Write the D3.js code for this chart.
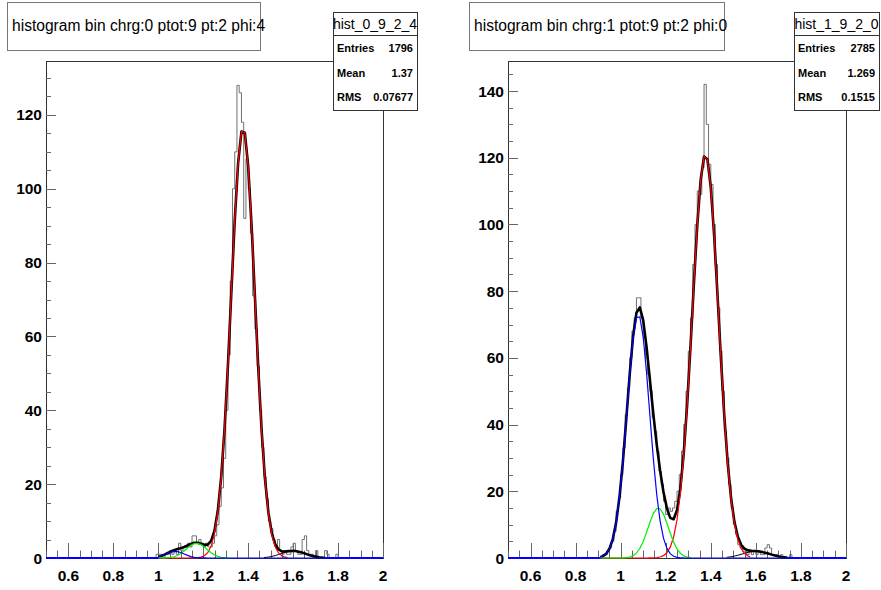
<!DOCTYPE html>
<html>
<head>
<meta charset="utf-8">
<script src="https://cdn.jsdelivr.net/npm/d3@7"></script>
<style>
body { margin: 0; background: #fff; }
svg { display: block; }
</style>
</head>
<body>
<svg id="canvas" width="881" height="590"></svg>
<script>
var bin_width = 0.01;
var x_labels = [0.6, 0.8, 1, 1.2, 1.4, 1.6, 1.8, 2];

// left pad
var left_title = 'histogram bin chrg:0 ptot:9 pt:2 phi:4';
var left_name = 'hist_0_9_2_4';
var left_stats = [['Entries', '1796'], ['Mean', '1.37'], ['RMS', '0.07677']];
var left_y_labels = [0, 20, 40, 60, 80, 100, 120];
var left_first_bin = 0.95;
var left_counts = [
    0, 0, 0, 0, 1, 1, 1, 0, 1, 1,
    2, 1, 2, 1, 4, 2, 3, 3, 4, 3,
    6, 6, 4, 5, 4, 3, 4, 3, 3, 4,
    6, 9, 14, 19, 27, 40, 55, 75, 100, 110,
    128, 126, 118, 92, 108, 100, 88, 71, 62, 52,
    40, 30, 22, 16, 10, 8, 5, 3, 5, 2,
    1, 2, 1, 1, 3, 4, 2, 1, 1, 5,
    6, 2, 1, 1, 0, 2, 0, 0, 0, 2,
    1, 0, 0, 0, 1, 0
];
// fit components: amplitude, mean, sigma
var left_red = [116.5, 1.377, 0.053];
var left_green = [4.0, 1.17, 0.045];
var left_blue = [1.8, 1.075, 0.04];
var left_tail = [1.9, 1.6, 0.055];
var left_fit_range = [1.0, 1.74];

// right pad
var right_title = 'histogram bin chrg:1 ptot:9 pt:2 phi:0';
var right_name = 'hist_1_9_2_0';
var right_stats = [['Entries', '2785'], ['Mean', '1.269'], ['RMS', '0.1515']];
var right_y_labels = [0, 20, 40, 60, 80, 100, 120, 140];
var right_first_bin = 0.90;
var right_counts = [
    0, 0, 1, 1, 2, 3, 5, 8, 14, 18,
    25, 33, 43, 51, 60, 68, 72, 78, 78, 72,
    66, 60, 55, 50, 42, 38, 32, 26, 22, 17,
    13, 15, 14, 15, 17, 20, 25, 32, 40, 50,
    62, 72, 88, 100, 110, 109, 117, 142, 130, 118,
    112, 100, 88, 75, 62, 50, 38, 30, 22, 15,
    10, 7, 4, 3, 2, 2, 1, 2, 1, 2,
    1, 2, 1, 1, 3, 4, 3, 1, 1, 1,
    0, 1, 0, 0, 0, 1, 0, 0, 0, 0
];
var right_red = [121, 1.376, 0.058];
var right_green = [15, 1.167, 0.045];
var right_blue = [73, 1.078, 0.05];
var right_tail = [2, 1.6, 0.06];
var right_fit_range = [0.91, 1.74];

var svg = d3.select('#canvas');
var font = 'Liberation Sans, Arial, sans-serif';

function gaus(p, x) {
    var z = (x - p[1]) / p[2];
    return p[0] * Math.exp(-0.5 * z * z);
}

function draw_pad(pad) {
    var x = d3.scaleLinear().domain([0.5, 2.0]).range([pad.left, pad.right]);
    var y = d3.scaleLinear().domain([0, pad.y_max]).range([pad.bottom, pad.top]);
    var g = svg.append('g');

    // frame
    g.append('rect')
        .attr('x', pad.left + 0.5).attr('y', pad.top + 0.5)
        .attr('width', pad.right - pad.left).attr('height', pad.bottom - pad.top)
        .attr('fill', 'none').attr('stroke', '#333').attr('stroke-width', 1);

    // x ticks, every 0.05, long ones on the labels
    d3.range(0, 31).forEach(function (i) {
        var v = 0.5 + i * 0.05;
        var len = (i % 4 === 2) ? 15 : 7.5;
        g.append('line')
            .attr('x1', Math.round(x(v)) + 0.5).attr('x2', Math.round(x(v)) + 0.5)
            .attr('y1', pad.bottom).attr('y2', pad.bottom - len)
            .attr('stroke', '#666').attr('stroke-width', 1);
    });
    x_labels.forEach(function (v) {
        g.append('text')
            .attr('x', x(v)).attr('y', pad.bottom + 23)
            .attr('text-anchor', 'middle')
            .attr('font-family', font)
            .attr('font-weight', 'bold').attr('font-size', 15.5)
            .text(v);
    });

    // y ticks, every 5
    d3.range(0, pad.y_max, 5).forEach(function (v) {
        var len = (v % 20 === 0) ? 10 : 5;
        g.append('line')
            .attr('x1', pad.left).attr('x2', pad.left + len)
            .attr('y1', Math.round(y(v)) + 0.5).attr('y2', Math.round(y(v)) + 0.5)
            .attr('stroke', '#666').attr('stroke-width', 1);
    });
    pad.y_labels.forEach(function (v) {
        g.append('text')
            .attr('x', pad.left - 4).attr('y', y(v) + 5.5)
            .attr('text-anchor', 'end')
            .attr('font-family', font)
            .attr('font-weight', 'bold').attr('font-size', 15.5)
            .text(v);
    });

    // histogram outline
    var pts = [[pad.first_bin, 0]];
    pad.counts.forEach(function (c, i) {
        var lo = pad.first_bin + i * bin_width;
        pts.push([lo, c]);
        pts.push([lo + bin_width, c]);
    });
    pts.push([pad.first_bin + pad.counts.length * bin_width, 0]);
    var line = d3.line()
        .x(function (d) { return x(d[0]); })
        .y(function (d) { return y(d[1]); });
    g.append('path')
        .attr('d', line(pts))
        .attr('fill', 'none').attr('stroke', '#707070').attr('stroke-width', 1);

    // functions are sampled like ROOT does: 100 points over 0.5..2
    function curve(fn, lo, hi) {
        var out = [[lo, fn(lo)]];
        d3.range(0, 101).forEach(function (k) {
            var v = 0.5 + k * 0.015;
            if (v > lo && v < hi) { out.push([v, fn(v)]); }
        });
        out.push([hi, fn(hi)]);
        return out;
    }

    var lo = pad.fit_range[0], hi = pad.fit_range[1];
    g.append('path')
        .attr('d', line(curve(function (v) {
            return gaus(pad.red, v) + gaus(pad.green, v) + gaus(pad.blue, v) + gaus(pad.tail, v);
        }, lo, hi)))
        .attr('fill', 'none').attr('stroke', '#000').attr('stroke-width', 2.6)
        .attr('stroke-linejoin', 'round');
    g.append('path')
        .attr('d', line(curve(function (v) { return gaus(pad.tail, v); }, 1.47, hi)))
        .attr('fill', 'none').attr('stroke', '#000').attr('stroke-width', 1);
    g.append('path')
        .attr('d', line(curve(function (v) { return gaus(pad.red, v); }, lo, 1.575)))
        .attr('fill', 'none').attr('stroke', '#ff0000').attr('stroke-width', 1.2);
    g.append('path')
        .attr('d', line(curve(function (v) { return gaus(pad.green, v); }, lo, 1.31)))
        .attr('fill', 'none').attr('stroke', '#00ee00').attr('stroke-width', 1.2);
    g.append('path')
        .attr('d', line(curve(function (v) { return gaus(pad.blue, v); }, lo, hi)))
        .attr('fill', 'none').attr('stroke', '#0000ff').attr('stroke-width', 1.2);
    // baseline outside the fit range
    [[0.5, lo], [hi, 2.0]].forEach(function (r) {
        g.append('line')
            .attr('x1', x(r[0])).attr('x2', x(r[1]))
            .attr('y1', pad.bottom).attr('y2', pad.bottom)
            .attr('stroke', '#0000ff').attr('stroke-width', 2);
    });

    // title box
    g.append('rect')
        .attr('x', pad.title_box[0] + 0.5).attr('y', 2.5)
        .attr('width', pad.title_box[1] - pad.title_box[0]).attr('height', 48)
        .attr('fill', '#fff').attr('stroke', '#777');
    g.append('text')
        .attr('x', pad.title_box[0] + 5).attr('y', 31)
        .attr('font-family', font)
        .attr('font-size', 15.6)
        .text(pad.title);

    // stats box
    var sx = pad.stats_box[0], sw = pad.stats_box[1] - pad.stats_box[0];
    g.append('rect')
        .attr('x', sx + 0.5).attr('y', 12.5)
        .attr('width', sw).attr('height', 98)
        .attr('fill', '#fff').attr('stroke', '#333');
    g.append('line')
        .attr('x1', sx).attr('x2', sx + sw)
        .attr('y1', 35.5).attr('y2', 35.5)
        .attr('stroke', '#333');
    g.append('text')
        .attr('x', sx + sw / 2).attr('y', 29)
        .attr('text-anchor', 'middle')
        .attr('font-family', font)
        .attr('font-size', 14)
        .text(pad.name);
    pad.stats.forEach(function (s, i) {
        var ty = 52 + i * 24.5;
        g.append('text')
            .attr('x', sx + 4).attr('y', ty)
            .attr('font-family', font)
            .attr('font-weight', 'bold').attr('font-size', 11)
            .text(s[0]);
        g.append('text')
            .attr('x', sx + sw - 4).attr('y', ty)
            .attr('text-anchor', 'end')
            .attr('font-family', font)
            .attr('font-weight', 'bold').attr('font-size', 11)
            .text(s[1]);
    });
}

draw_pad({
    left: 46, right: 383, top: 61, bottom: 558, y_max: 134.6,
    y_labels: left_y_labels, first_bin: left_first_bin, counts: left_counts,
    red: left_red, green: left_green, blue: left_blue, tail: left_tail,
    fit_range: left_fit_range,
    title: left_title, title_box: [7, 260],
    name: left_name, stats: left_stats, stats_box: [333, 417]
});
draw_pad({
    left: 508, right: 846, top: 61, bottom: 558, y_max: 149,
    y_labels: right_y_labels, first_bin: right_first_bin, counts: right_counts,
    red: right_red, green: right_green, blue: right_blue, tail: right_tail,
    fit_range: right_fit_range,
    title: right_title, title_box: [469, 724],
    name: right_name, stats: right_stats, stats_box: [794, 879]
});
</script>
</body>
</html>
